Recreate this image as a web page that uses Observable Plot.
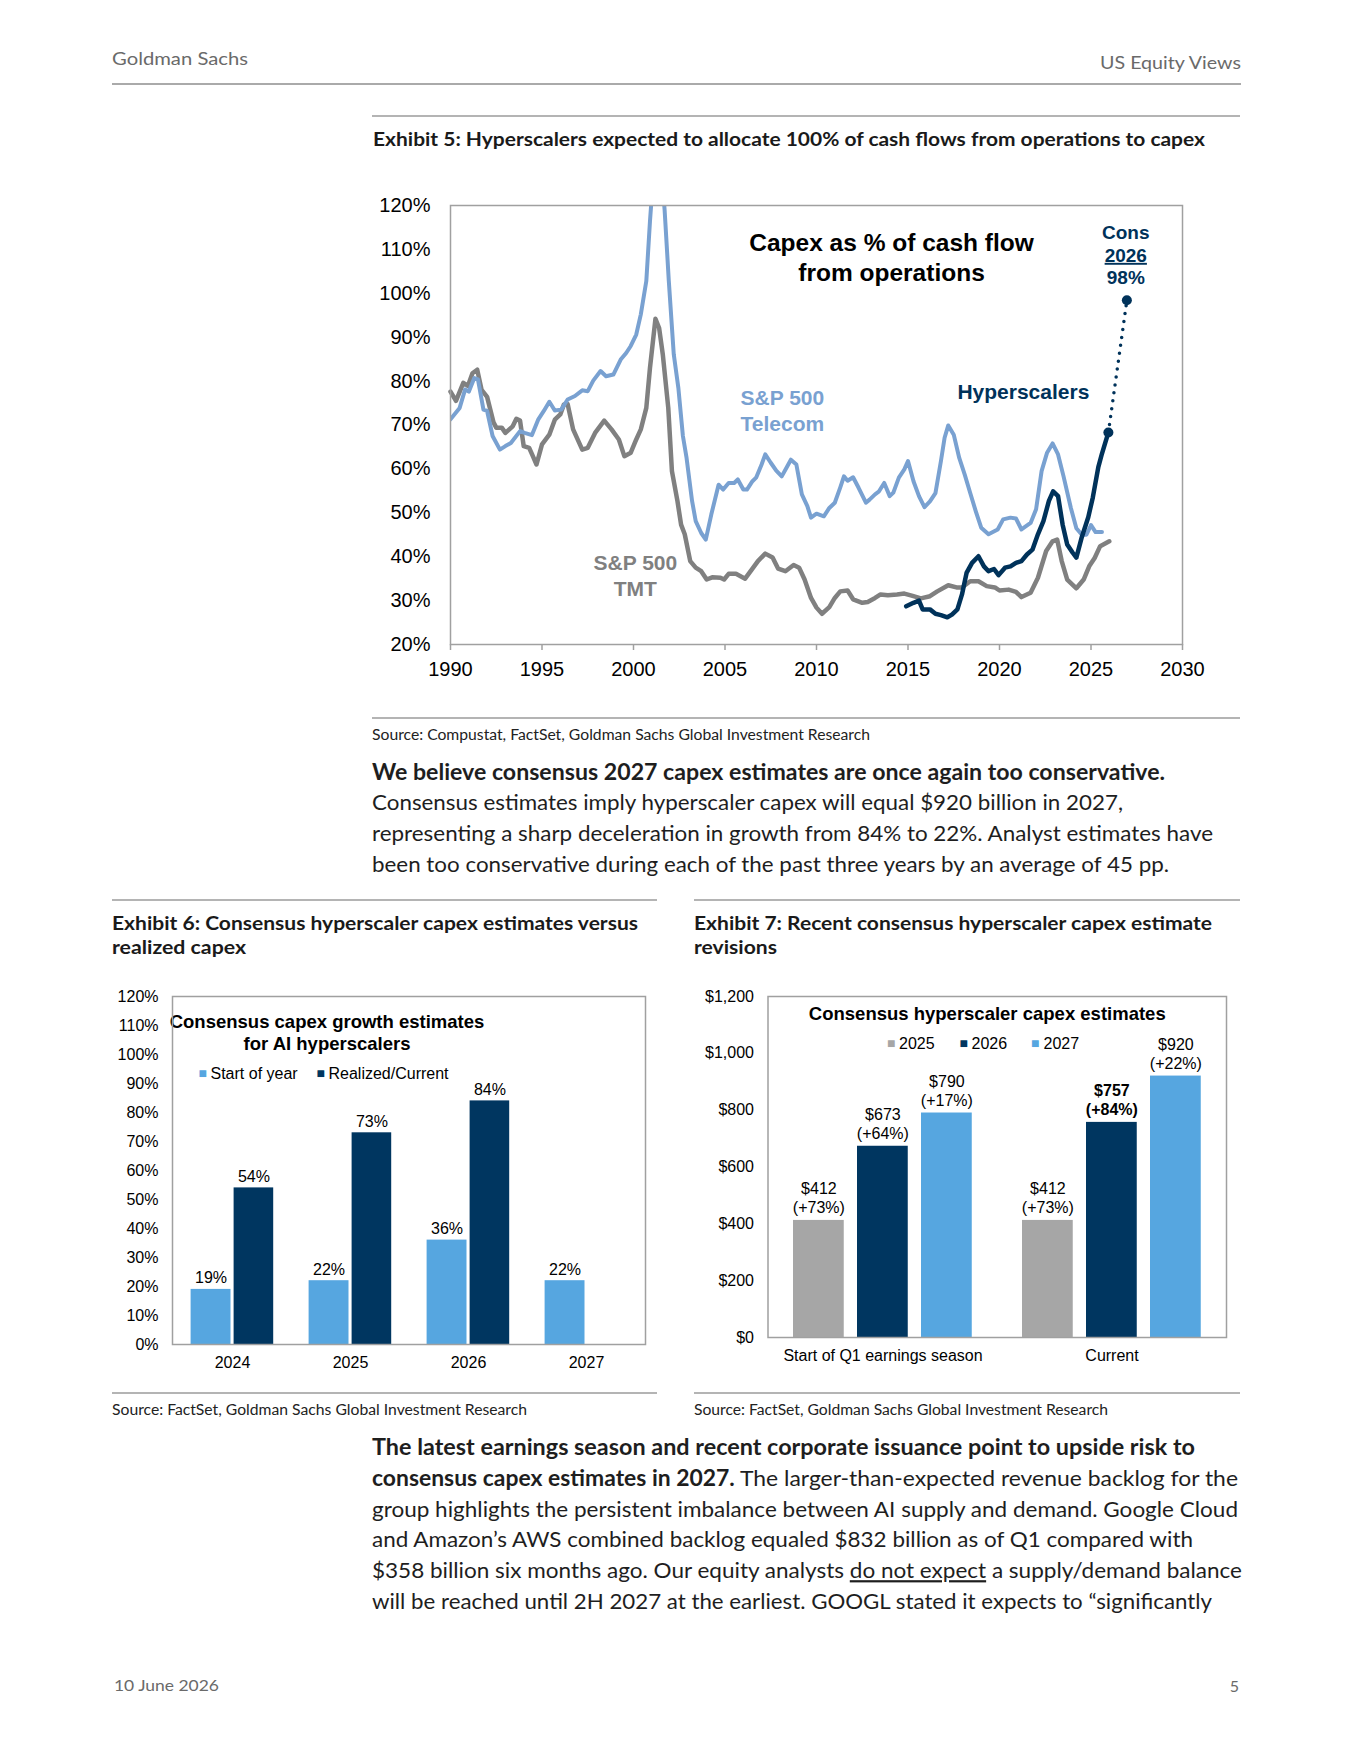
<!DOCTYPE html>
<html>
<head>
<meta charset="utf-8">
<script src="https://cdn.jsdelivr.net/npm/d3@7"></script>
<script src="https://cdn.jsdelivr.net/npm/@observablehq/plot@0.6"></script>
<style>
  html, body { margin: 0; padding: 0; background: #fff; }
  body { width: 1354px; height: 1753px; position: relative; overflow: hidden; }
  .chart { position: absolute; }
</style>
</head>
<body>
<div id="ex5" class="chart" style="left:370px;top:180px"></div>
<div id="ex6" class="chart" style="left:100px;top:980px"></div>
<div id="ex7" class="chart" style="left:680px;top:980px"></div>
<script>
// ---------------- DATA ----------------
// Exhibit 5: capex as % of cash flow from operations  [year, percent]
const tmt = [[1990.0,77.6],[1990.3,75.5],[1990.7,79.6],[1990.95,78.9],[1991.2,81.8],[1991.46,82.6],[1991.7,78.0],[1992.0,76.4],[1992.35,70.6],[1992.5,69.4],[1992.8,69.4],[1993.0,68.2],[1993.4,69.7],[1993.6,71.4],[1993.8,71.0],[1994.0,65.2],[1994.3,64.8],[1994.5,62.9],[1994.7,61.0],[1995.0,65.6],[1995.4,67.8],[1995.7,71.2],[1996.0,72.4],[1996.2,74.7],[1996.4,74.8],[1996.7,69.0],[1997.2,64.4],[1997.5,64.8],[1997.9,68.2],[1998.4,71.0],[1998.8,69.0],[1999.2,66.7],[1999.5,62.9],[1999.85,63.7],[2000.15,66.7],[2000.4,69.0],[2000.7,73.9],[2000.9,83.0],[2001.2,94.2],[2001.4,92.1],[2001.6,86.1],[2001.9,73.9],[2002.1,59.5],[2002.4,52.7],[2002.6,47.3],[2002.8,45.1],[2003.1,39.0],[2003.4,37.5],[2003.7,36.7],[2004.0,34.8],[2004.3,35.3],[2004.75,35.2],[2004.95,34.8],[2005.2,36.1],[2005.6,36.1],[2006.1,35.0],[2006.4,36.7],[2006.8,39.0],[2007.2,40.7],[2007.6,39.8],[2007.9,37.3],[2008.3,36.7],[2008.75,38.1],[2009.05,37.5],[2009.35,34.8],[2009.7,30.6],[2010.0,28.4],[2010.3,27.0],[2010.7,28.5],[2011.0,30.6],[2011.3,32.1],[2011.7,32.3],[2012.0,30.3],[2012.5,29.5],[2012.8,29.7],[2013.2,30.6],[2013.5,31.4],[2013.9,31.2],[2014.4,31.4],[2014.8,31.6],[2015.3,31.0],[2015.7,30.5],[2016.2,31.0],[2016.6,32.1],[2017.2,33.5],[2017.65,33.0],[2017.95,33.0],[2018.4,34.4],[2018.85,34.4],[2019.3,33.3],[2019.75,33.0],[2020.0,32.3],[2020.5,32.5],[2020.9,32.0],[2021.2,30.8],[2021.7,31.8],[2022.1,35.2],[2022.55,41.3],[2022.9,43.5],[2023.15,43.9],[2023.4,39.0],[2023.7,34.8],[2024.2,32.8],[2024.6,34.8],[2024.9,37.8],[2025.2,39.7],[2025.5,42.4],[2026.0,43.5]];

const telecom = [[1990.0,71.3],[1990.5,73.9],[1990.8,78.1],[1991.0,77.6],[1991.3,80.7],[1991.5,80.4],[1991.8,73.5],[1992.0,73.2],[1992.3,67.5],[1992.7,64.4],[1993.0,65.2],[1993.3,65.9],[1993.8,68.6],[1994.05,68.2],[1994.45,67.7],[1994.8,71.3],[1995.1,73.2],[1995.4,75.3],[1995.7,73.3],[1996.05,73.5],[1996.4,75.8],[1996.8,76.6],[1997.2,77.9],[1997.5,77.7],[1997.8,80.1],[1998.2,82.3],[1998.5,81.1],[1998.9,81.5],[1999.3,84.9],[1999.6,86.4],[1999.85,88.0],[2000.15,90.6],[2000.4,95.2],[2000.7,102.8],[2000.9,116.4],[2001.1,128],[2001.35,134],[2001.55,127],[2001.7,119],[2001.93,102.8],[2002.2,86.1],[2002.45,78.5],[2002.7,67.5],[2002.9,62.5],[2003.2,52.7],[2003.4,48.1],[2003.7,45.4],[2003.95,43.9],[2004.25,49.6],[2004.65,56.4],[2004.9,55.3],[2005.2,56.8],[2005.5,56.8],[2005.7,57.6],[2006.0,55.3],[2006.2,55.3],[2006.5,57.2],[2006.7,58.0],[2007.0,61.0],[2007.2,63.3],[2007.5,61.4],[2007.8,59.6],[2008.1,58.3],[2008.3,59.8],[2008.6,62.1],[2008.9,61.0],[2009.2,54.2],[2009.5,51.5],[2009.7,48.9],[2010.0,49.8],[2010.4,49.2],[2010.7,51.1],[2011.0,52.3],[2011.3,55.8],[2011.5,58.3],[2011.7,57.3],[2012.0,58.1],[2012.3,55.7],[2012.7,52.3],[2012.9,53.0],[2013.2,54.2],[2013.4,54.8],[2013.7,56.8],[2014.0,53.8],[2014.2,54.6],[2014.5,58.0],[2014.8,59.9],[2015.0,61.8],[2015.3,57.2],[2015.6,53.8],[2015.9,51.3],[2016.2,52.6],[2016.5,54.5],[2016.8,61.8],[2017.0,67.1],[2017.2,69.9],[2017.5,67.8],[2017.8,62.5],[2018.1,58.7],[2018.4,54.5],[2018.7,50.4],[2019.0,46.6],[2019.4,45.1],[2019.9,46.2],[2020.2,48.5],[2020.6,48.9],[2020.9,48.7],[2021.2,46.2],[2021.7,47.7],[2022.0,50.8],[2022.3,59.5],[2022.6,63.7],[2022.9,65.8],[2023.2,63.3],[2023.5,58.3],[2023.9,51.1],[2024.2,46.5],[2024.5,45.0],[2024.75,45.0],[2025.0,47.2],[2025.25,45.6],[2025.6,45.6]];

const hyperscalers = [[2014.9,28.7],[2015.3,29.5],[2015.6,30.0],[2015.8,28.0],[2016.2,28.0],[2016.5,27.0],[2016.8,26.7],[2017.15,26.2],[2017.4,26.8],[2017.7,28.0],[2017.95,31.4],[2018.2,36.3],[2018.5,38.6],[2018.85,40.1],[2019.15,37.8],[2019.4,36.7],[2019.7,37.2],[2019.95,35.8],[2020.3,37.5],[2020.6,37.8],[2020.9,38.6],[2021.2,39.0],[2021.5,40.5],[2021.8,41.6],[2022.1,45.1],[2022.4,48.1],[2022.7,52.7],[2022.93,54.9],[2023.2,53.8],[2023.45,47.3],[2023.7,42.8],[2024.0,40.9],[2024.2,39.8],[2024.5,44.5],[2024.85,49.0],[2025.1,53.5],[2025.4,60.4],[2025.6,63.5],[2025.95,68.3]];
const hyperscalersCons = [[2025.95,68.3],[2026.96,98.4]];

const xTicks5 = [1990,1995,2000,2005,2010,2015,2020,2025,2030];
const yTicks5 = [20,30,40,50,60,70,80,90,100,110,120];

// Exhibit 6: consensus capex growth estimates
const years6 = ["2024","2025","2026","2027"];
const startOfYear = [19, 22, 36, 22];
const realizedCurrent = [54, 73, 84, null];
const yTicks6 = [0,10,20,30,40,50,60,70,80,90,100,110,120];

// Exhibit 7: consensus hyperscaler capex estimates ($bn)
const groups7 = ["Start of Q1 earnings season", "Current"];
const capex2025 = [412, 412];
const capex2026 = [673, 757];
const capex2027 = [790, 920];
const growth2025 = [73, 73];
const growth2026 = [64, 84];
const growth2027 = [17, 22];
const yTicks7 = [0,200,400,600,800,1000,1200];

// Page text
const headerLeft = "Goldman Sachs";
const headerRight = "US Equity Views";
const title5 = "Exhibit 5: Hyperscalers expected to allocate 100% of cash flows from operations to capex";
const source5 = "Source: Compustat, FactSet, Goldman Sachs Global Investment Research";
const para1 = [
  [{t:"We believe consensus 2027 capex estimates are once again too conservative.", b:true}],
  [{t:"Consensus estimates imply hyperscaler capex will equal $920 billion in 2027,"}],
  [{t:"representing a sharp deceleration in growth from 84% to 22%. Analyst estimates have"}],
  [{t:"been too conservative during each of the past three years by an average of 45 pp."}]
];
const title6 = ["Exhibit 6: Consensus hyperscaler capex estimates versus", "realized capex"];
const title7 = ["Exhibit 7: Recent consensus hyperscaler capex estimate", "revisions"];
const source67 = "Source: FactSet, Goldman Sachs Global Investment Research";
const para2 = [
  [{t:"The latest earnings season and recent corporate issuance point to upside risk to", b:true}],
  [{t:"consensus capex estimates in 2027.", b:true}, {t:" The larger-than-expected revenue backlog for the"}],
  [{t:"group highlights the persistent imbalance between AI supply and demand. Google Cloud"}],
  [{t:"and Amazon\u2019s AWS combined backlog equaled $832 billion as of Q1 compared with"}],
  [{t:"$358 billion six months ago. Our equity analysts "}, {t:"do not expect", u:true}, {t:" a supply/demand balance"}],
  [{t:"will be reached until 2H 2027 at the earliest. GOOGL stated it expects to \u201csignificantly"}]
];
const footerDate = "10 June 2026";
const pageNumber = "5";

// ---------------- COLORS / FONTS ----------------
const NAVY = "#003660", LIGHTBLUE = "#56a6e0", GREYBAR = "#a6a6a6";
const TELECOM = "#79a1d1", TMTGREY = "#808080", HYPER = "#00325a";
const ARIAL = "'Liberation Sans', Arial, Helvetica, sans-serif";
const PAGEFONT = "Lato, 'Noto Sans', sans-serif";

// ---------------- PAGE TEXT OVERLAY ----------------
const page = d3.select("body").insert("svg", ":first-child")
  .attr("width", 1354).attr("height", 1753)
  .style("position", "absolute").style("left", 0).style("top", 0);

function hline(x1, x2, y, stroke = "#9b9b9b", w = 1.3) {
  page.append("line").attr("x1", x1).attr("x2", x2).attr("y1", y).attr("y2", y)
    .attr("stroke", stroke).attr("stroke-width", w);
}
function txt(x, y, parts, o = {}) {
  const t = page.append("text").attr("x", x).attr("y", y)
    .attr("font-family", PAGEFONT).attr("font-size", o.size || 22)
    .attr("fill", o.fill || "#1e1e1e");
  if (o.anchor) t.attr("text-anchor", o.anchor);
  if (o.w) t.attr("textLength", o.w).attr("lengthAdjust", "spacingAndGlyphs");
  if (typeof parts === "string") parts = [{t: parts, b: o.bold}];
  for (const p of parts) {
    const s = t.append("tspan").text(p.t);
    if (p.b) s.attr("font-weight", "bold");
    if (p.u) s.style("text-decoration", "underline");
  }
}

// header
txt(112, 65, headerLeft, {size: 18, fill: "#6a6a6a", w: 136});
txt(1241, 69, headerRight, {size: 18, fill: "#6a6a6a", w: 141, anchor: "end"});
hline(112, 1241, 84, "#8e8e8e", 1.5);

// exhibit 5 framing
hline(372, 1240, 116);
txt(373, 146, title5, {size: 18.5, bold: true, w: 832, fill: "#1a1a1a"});
hline(372, 1240, 718);
txt(372, 740, source5, {size: 14.5, w: 498, fill: "#222"});

// paragraph 1
const p1w = [793, 751, 841, 797];
para1.forEach((ln, i) => txt(372, 779.5 + i * 30.8, ln, {size: 22, w: p1w[i]}));

// exhibits 6 & 7 framing
hline(112, 657, 900);
hline(694, 1240, 900);
txt(112, 930, title6[0], {size: 18.5, bold: true, w: 526, fill: "#1a1a1a"});
txt(112, 954, title6[1], {size: 18.5, bold: true, w: 134, fill: "#1a1a1a"});
txt(694, 930, title7[0], {size: 18.5, bold: true, w: 518, fill: "#1a1a1a"});
txt(694, 954, title7[1], {size: 18.5, bold: true, w: 83, fill: "#1a1a1a"});
hline(112, 657, 1393);
hline(694, 1240, 1393);
txt(112, 1415, source67, {size: 14.5, w: 415, fill: "#222"});
txt(694, 1415, source67, {size: 14.5, w: 414, fill: "#222"});

// paragraph 2
const p2w = [823, 866, 866, 821, 870, 840];
para2.forEach((ln, i) => txt(372, 1455 + i * 30.8, ln, {size: 22, w: p2w[i]}));

// footer
txt(114, 1691, footerDate, {size: 16, fill: "#6a6a6a", w: 105});
txt(1239, 1692, pageNumber, {size: 16, fill: "#6a6a6a", anchor: "end"});

// ---------------- EXHIBIT 5 ----------------
const ex5 = Plot.plot({
  width: 850, height: 520,
  marginLeft: 80, marginRight: 38, marginTop: 25, marginBottom: 56,
  style: {fontFamily: ARIAL, fontSize: "20px", color: "#000", background: "transparent", overflow: "visible"},
  x: {domain: [1990, 2030], ticks: xTicks5, tickFormat: d3.format("d"), tickSize: 6, tickPadding: 11, label: null},
  y: {domain: [20, 120], ticks: yTicks5, tickFormat: d => d + "%", tickSize: 0, tickPadding: 20, label: null},
  marks: [
    Plot.line(tmt, {x: d => d[0], y: d => d[1], stroke: TMTGREY, strokeWidth: 4.5, strokeLinejoin: "round"}),
    Plot.line(telecom, {x: d => d[0], y: d => d[1], stroke: TELECOM, strokeWidth: 4, strokeLinejoin: "round", clip: true}),
    Plot.line(hyperscalers, {x: d => d[0], y: d => d[1], stroke: HYPER, strokeWidth: 4.5, strokeLinejoin: "round"}),
    Plot.line(hyperscalersCons, {x: d => d[0], y: d => d[1], stroke: HYPER, strokeWidth: 3.5, strokeDasharray: "0,8", strokeLinecap: "round"}),
    Plot.dot(hyperscalersCons, {x: d => d[0], y: d => d[1], r: 5, fill: HYPER}),
    Plot.text(["Capex as % of cash flow\nfrom operations"], {x: 2014.1, y: 108.5, fontSize: 24.5, fontWeight: "bold", lineHeight: 1.23, fill: "#000"}),
    Plot.text(["Cons\n2026\n98%"], {x: 2026.9, y: 108.8, fontSize: 19, fontWeight: "bold", lineHeight: 1.18, fill: HYPER}),
    Plot.text(["S&P 500\nTelecom"], {x: 2005.85, y: 73.4, textAnchor: "start", fontSize: 21, fontWeight: "bold", lineHeight: 1.24, fill: TELECOM}),
    Plot.text(["Hyperscalers"], {x: 2017.7, y: 77.4, textAnchor: "start", fontSize: 21, fontWeight: "bold", fill: HYPER}),
    Plot.text(["S&P 500\nTMT"], {x: 2000.1, y: 35.8, fontSize: 21, fontWeight: "bold", lineHeight: 1.24, fill: TMTGREY}),
    Plot.frame({stroke: "#a0a0a0", strokeWidth: 1.5})
  ]
});
document.getElementById("ex5").appendChild(ex5);
d3.select(ex5).selectAll("tspan").filter(function () { return this.textContent === "2026"; })
  .style("text-decoration", "underline");
d3.select(ex5).selectAll('g[aria-label="x-axis tick"] path').attr("stroke", "#a0a0a0").attr("stroke-width", 1.5);

// ---------------- EXHIBIT 6 ----------------
const startData = years6.map((y, i) => ({year: y, v: startOfYear[i]}));
const realizedData = years6.map((y, i) => ({year: y, v: realizedCurrent[i]})).filter(d => d.v != null);

const ex6 = Plot.plot({
  width: 560, height: 410,
  marginLeft: 72, marginRight: 15, marginTop: 16, marginBottom: 46,
  style: {fontFamily: ARIAL, fontSize: "16px", color: "#000", background: "transparent", overflow: "visible"},
  x: {type: "band", domain: years6, padding: 0, tickSize: 0, tickPadding: 12, label: null},
  y: {domain: [0, 120], ticks: yTicks6, tickFormat: d => d + "%", tickSize: 0, tickPadding: 14, label: null},
  marks: [
    Plot.barY(startData, {x: "year", y: "v", fill: LIGHTBLUE, insetLeft: 17.6, insetRight: 60.5}),
    Plot.barY(realizedData, {x: "year", y: "v", fill: NAVY, insetLeft: 60.6, insetRight: 17.8}),
    Plot.text(startData, {x: "year", y: "v", text: d => d.v + "%", dx: -21.5, dy: -6, lineAnchor: "bottom", fontSize: 16, fill: "#000"}),
    Plot.text(realizedData, {x: "year", y: "v", text: d => d.v + "%", dx: 21.4, dy: -6, lineAnchor: "bottom", fontSize: 16, fill: "#000"}),
    Plot.text(["Consensus capex growth estimates\nfor AI hyperscalers"], {frameAnchor: "top", dx: -82, dy: 16, lineAnchor: "top", lineHeight: 1.19, fontSize: 18.5, fontWeight: "bold", fill: "#000"}),
    Plot.text(["\u25A0"], {frameAnchor: "top-left", dx: 26, dy: 77, textAnchor: "start", lineAnchor: "middle", fontSize: 14, fill: LIGHTBLUE}),
    Plot.text(["Start of year"], {frameAnchor: "top-left", dx: 38, dy: 77, textAnchor: "start", lineAnchor: "middle", fontSize: 16, fill: "#000"}),
    Plot.text(["\u25A0"], {frameAnchor: "top-left", dx: 144, dy: 77, textAnchor: "start", lineAnchor: "middle", fontSize: 14, fill: NAVY}),
    Plot.text(["Realized/Current"], {frameAnchor: "top-left", dx: 156, dy: 77, textAnchor: "start", lineAnchor: "middle", fontSize: 16, fill: "#000"}),
    Plot.frame({stroke: "#a0a0a0", strokeWidth: 1.5})
  ]
});
document.getElementById("ex6").appendChild(ex6);

// ---------------- EXHIBIT 7 ----------------
const mk7 = (vals, growth) => groups7.map((g, i) => ({group: g, v: vals[i], label: `$${vals[i]}\n(+${growth[i]}%)`}));
const d2025 = mk7(capex2025, growth2025);
const d2026 = mk7(capex2026, growth2026);
const d2027 = mk7(capex2027, growth2027);
const series7 = [
  {data: d2025, fill: GREYBAR},
  {data: d2026, fill: NAVY},
  {data: d2027, fill: LIGHTBLUE}
];
const band7 = 229.25, pad7 = 25, bw7 = 51, step7 = 64;
const marks7 = [];
series7.forEach((s, i) => {
  marks7.push(Plot.barY(s.data, {x: "group", y: "v", fill: s.fill,
    insetLeft: pad7 + i * step7, insetRight: band7 - pad7 - bw7 - i * step7}));
  const dx = pad7 + bw7 / 2 + i * step7 - band7 / 2;
  marks7.push(Plot.text(s.data, {x: "group", y: "v", text: "label", dx, dy: -7, lineAnchor: "bottom", lineHeight: 1.19, fontSize: 16, fill: "#000",
    filter: d => !(i === 1 && d.group === "Current")}));
  marks7.push(Plot.text(s.data, {x: "group", y: "v", text: "label", dx, dy: -7, lineAnchor: "bottom", lineHeight: 1.19, fontSize: 16, fontWeight: "bold", fill: "#000",
    filter: d => (i === 1 && d.group === "Current")}));
});
const legend7 = [["\u25A0", GREYBAR, 119], ["2025", "#000", 131], ["\u25A0", NAVY, 191.5], ["2026", "#000", 203.5], ["\u25A0", LIGHTBLUE, 263], ["2027", "#000", 275.5]];
legend7.forEach(([t, c, dx]) => marks7.push(Plot.text([t], {frameAnchor: "top-left", dx, dy: 47, textAnchor: "start", lineAnchor: "middle", fontSize: t === "\u25A0" ? 14 : 16, fill: c})));

const ex7 = Plot.plot({
  width: 560, height: 400,
  marginLeft: 87.5, marginRight: 14, marginTop: 16, marginBottom: 43,
  style: {fontFamily: ARIAL, fontSize: "16px", color: "#000", background: "transparent", overflow: "visible"},
  x: {type: "band", domain: groups7, padding: 0, tickSize: 0, tickPadding: 12, label: null},
  y: {domain: [0, 1200], ticks: yTicks7, tickFormat: d => "$" + d3.format(",")(d), tickSize: 0, tickPadding: 14, label: null},
  marks: [
    ...marks7,
    Plot.text(["Consensus hyperscaler capex estimates"], {frameAnchor: "top", dx: -10, dy: 10, lineAnchor: "top", fontSize: 18.5, fontWeight: "bold", fill: "#000"}),
    Plot.frame({stroke: "#a0a0a0", strokeWidth: 1.5})
  ]
});
document.getElementById("ex7").appendChild(ex7);
</script>
</body>
</html>
